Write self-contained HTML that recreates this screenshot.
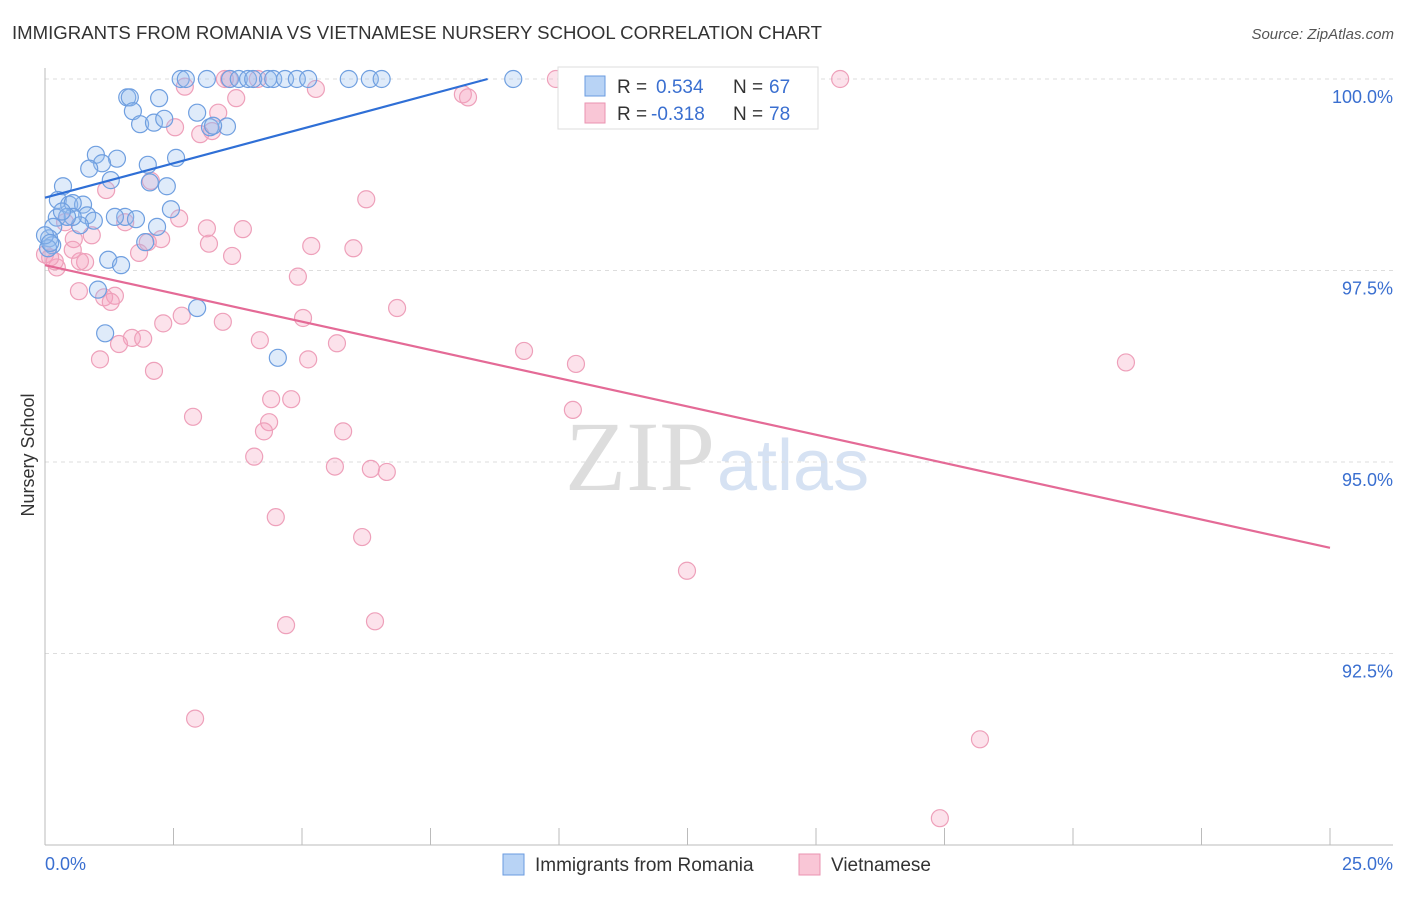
<!DOCTYPE html>
<html><head><meta charset="utf-8"><style>
body{margin:0;background:#fff;font-family:"Liberation Sans",sans-serif;}
</style></head><body>
<svg width="1406" height="892" xmlns="http://www.w3.org/2000/svg" id="svg">
<text x="12" y="39" font-size="18.6" fill="#333">IMMIGRANTS FROM ROMANIA VS VIETNAMESE NURSERY SCHOOL CORRELATION CHART</text>
<text x="1394" y="39" font-size="15" fill="#555" font-style="italic" text-anchor="end">Source: ZipAtlas.com</text>
<text x="715" y="490" font-size="100" fill="#ddd" text-anchor="end" font-family="Liberation Serif">ZIP</text>
<text x="717" y="490" font-size="72" fill="#d6e2f3">atlas</text>
<g id="grid"></g>
<g id="pts"></g>
<text x="34" y="455" font-size="18" fill="#333" transform="rotate(-90 34 455)" text-anchor="middle">Nursery School</text>
<g>
<rect x="558" y="67" width="260" height="62" fill="#fff" stroke="#ddd"/>
<rect x="585" y="76" width="20" height="20" fill="#b8d3f5" stroke="#6a9be0"/>
<rect x="585" y="103" width="20" height="20" fill="#f9c6d6" stroke="#ea93b0"/>
<text x="617" y="93" font-size="19" fill="#333">R =</text>
<text x="656" y="93" font-size="19" fill="#3a6fd0">0.534</text>
<text x="733" y="93" font-size="19" fill="#333">N =</text>
<text x="769" y="93" font-size="19" fill="#3a6fd0">67</text>
<text x="617" y="120" font-size="19" fill="#333">R =</text>
<text x="651" y="120" font-size="19" fill="#3a6fd0">-0.318</text>
<text x="733" y="120" font-size="19" fill="#333">N =</text>
<text x="769" y="120" font-size="19" fill="#3a6fd0">78</text>
</g>
<g>
<rect x="503" y="854" width="21" height="21" fill="#b8d3f5" stroke="#6a9be0"/>
<text x="535" y="871" font-size="19" fill="#333">Immigrants from Romania</text>
<rect x="799" y="854" width="21" height="21" fill="#f9c6d6" stroke="#ea93b0"/>
<text x="831" y="871" font-size="19" fill="#333">Vietnamese</text>
</g>
</svg>
<script>
const xTicks=[0,2.5,5,7.5,10,12.5,15,17.5,20,22.5,25];
const yTicks=[100,97.5,95,92.5];
const yTickLabels=["100.0%","97.5%","95.0%","92.5%"];
const blueTrend=[98.45,0.180];
const pinkTrend=[97.57,-0.1476];
const blueX=[2.64,2.74,3.15,3.6,3.77,3.95,4.05,4.34,4.44,4.67,4.9,5.12,5.91,6.32,6.55,9.11,13.05,1.6,1.65,2.22,1.71,2.96,1.85,2.12,2.32,3.54,3.21,0.99,1.4,1.11,2.55,2.0,0.86,1.28,0.35,2.04,2.37,0.25,0.47,0.74,0.54,2.45,1.56,1.77,0.23,1.36,0.82,0.95,2.18,0.68,0.16,0.08,1.95,0.14,0.06,1.23,1.48,1.03,2.96,1.17,4.53,0.54,0.43,3.27,0,0.1,0.33];
const blueY=[100,100,100,100,100,100,100,100,100,100,100,100,100,100,100,100,100,99.76,99.76,99.75,99.58,99.56,99.41,99.43,99.48,99.38,99.37,99.01,98.96,98.9,98.97,98.88,98.83,98.68,98.6,98.65,98.6,98.42,98.36,98.36,98.38,98.3,98.2,98.17,98.19,98.2,98.22,98.15,98.07,98.09,98.07,97.92,97.87,97.83,97.79,97.64,97.57,97.25,97.01,96.68,96.36,98.2,98.2,99.39,97.96,97.86,98.27];
const pinkX=[2.72,3.5,3.58,4.14,5.27,8.13,8.23,9.94,15.47,3.72,3.37,3.25,2.53,3.02,2.06,1.19,6.25,2.61,0.39,1.56,3.15,3.85,0.91,0.56,2.26,2.0,3.19,5.18,6.0,1.83,3.64,0,0.23,0.78,0.68,4.92,0.66,1.36,1.15,1.28,6.85,2.66,2.3,3.46,5.02,4.18,1.69,1.91,1.44,5.68,9.32,1.07,5.12,10.33,2.12,21.03,4.4,4.79,10.27,2.88,4.36,4.26,5.8,4.07,5.64,6.34,6.65,4.49,6.17,12.49,4.69,6.42,2.92,18.19,17.41,0.19,0.1,0.54];
const pinkY=[99.9,100,100,100,99.87,99.8,99.76,100,100,99.75,99.56,99.32,99.37,99.28,98.67,98.55,98.43,98.18,98.13,98.13,98.05,98.04,97.96,97.91,97.91,97.87,97.85,97.82,97.79,97.73,97.69,97.71,97.54,97.61,97.62,97.42,97.23,97.17,97.15,97.09,97.01,96.91,96.81,96.83,96.88,96.59,96.62,96.61,96.54,96.55,96.45,96.34,96.34,96.28,96.19,96.3,95.82,95.82,95.68,95.59,95.52,95.4,95.4,95.07,94.94,94.91,94.87,94.28,94.02,93.58,92.87,92.92,91.65,91.38,90.35,97.62,97.67,97.77];
const NS="http://www.w3.org/2000/svg";
const xs=v=>45+v*51.4, ys=v=>79+(100-v)*76.6;
const grid=document.getElementById('grid'),pts=document.getElementById('pts');
function mk(tag,at,parent){const e=document.createElementNS(NS,tag);for(const k in at)e.setAttribute(k,at[k]);parent.appendChild(e);return e;}
yTicks.forEach((t,i)=>{const l=mk('line',{x1:45,x2:1393,y1:ys(t),y2:ys(t),stroke:'#ddd','stroke-dasharray':'4,4'},grid);


const tx=mk('text',{x:1393,y:ys(t)+24,'font-size':18,fill:'#3a6fd0','text-anchor':'end'},grid);tx.textContent=yTickLabels[i];

});
const ax=mk('line',{x1:45,x2:1393,y1:845,y2:845,stroke:'#bbb'},grid);


const ay=mk('line',{x1:45,x2:45,y1:68,y2:845,stroke:'#bbb'},grid);


xTicks.forEach(t=>{const l=mk('line',{x1:xs(t),x2:xs(t),y1:828,y2:845,stroke:'#bbb'},grid);

});
const x0=mk('text',{x:45,y:870,'font-size':18,fill:'#3a6fd0'},grid);x0.textContent='0.0%';


const x1=mk('text',{x:1393,y:870,'font-size':18,fill:'#3a6fd0','text-anchor':'end'},grid);x1.textContent='25.0%';


pinkX.forEach((x,i)=>{const c=mk('circle',{cx:xs(x),cy:ys(pinkY[i]),r:8.5,fill:'rgba(244,160,190,0.3)',stroke:'#eea0ba','stroke-width':1.2},pts);

});
blueX.forEach((x,i)=>{const c=mk('circle',{cx:xs(x),cy:ys(blueY[i]),r:8.5,fill:'rgba(150,190,240,0.3)',stroke:'#6f9fe0','stroke-width':1.2},pts);

});
const ab=blueTrend[0],bb=blueTrend[1];const xe=Math.min(25,(100-ab)/bb);
const bl=mk('line',{x1:xs(0),y1:ys(ab),x2:xs(xe),y2:ys(ab+bb*xe),stroke:'#2f6fd6','stroke-width':2.2},pts);


const ap=pinkTrend[0],bp=pinkTrend[1];
const pl=mk('line',{x1:xs(0),y1:ys(ap),x2:xs(25),y2:ys(ap+bp*25),stroke:'#e46a96','stroke-width':2.2},pts);


</script>
</body></html>
